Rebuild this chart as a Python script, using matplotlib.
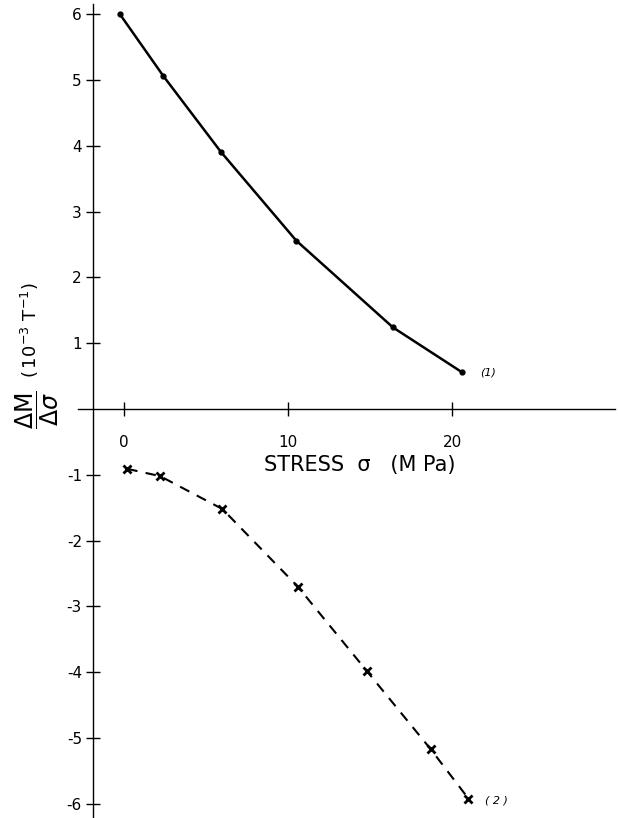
import matplotlib
matplotlib.use("Agg")
import matplotlib.pyplot as plt

# curve (1): dots, solid line
stress_1 = [-0.25, 2.4, 5.9, 10.5, 16.4, 20.6]
dm_1 = [6.0, 5.06, 3.91, 2.56, 1.24, 0.56]

# curve (2): crosses, dashed line
stress_2 = [0.2, 2.2, 6.0, 10.6, 14.8, 18.7, 21.0]
dm_2 = [-0.91, -1.02, -1.52, -2.70, -3.98, -5.17, -5.92]

xticks = [0, 10, 20]
yticks = [-6, -5, -4, -3, -2, -1, 1, 2, 3, 4, 5, 6]

W, H = 618, 818
fig = plt.figure(figsize=(W / 100, H / 100), dpi=100)
ax = fig.add_axes([0, 0, 1, 1])

# pixel -> data mapping
x_per_px = 1 / 16.4
y_per_px = 1 / 65.8
ax.set_xlim((0 - 124) * x_per_px, (W - 124) * x_per_px)
ax.set_ylim((409 - H) * y_per_px, 409 * y_per_px)

ax.plot(stress_1, dm_1, '-', color='black', lw=1.8,
        marker='o', markersize=3.5)
ax.plot(stress_2, dm_2, '--', color='black', lw=1.5, dashes=(5, 4),
        marker='x', markersize=6, markeredgewidth=2)

ax.text(21.7, 0.56, '(1)', fontsize=8, style='italic', va='center')
ax.text(22.0, -5.95, '( 2 )', fontsize=8, style='italic', va='center')

# axes through the data origin like the original drawing
for s in ['top', 'right']:
    ax.spines[s].set_visible(False)
ax.spines['left'].set_position(('data', (93 - 124) * x_per_px))
ax.spines['bottom'].set_position(('data', 0))
ax.spines['left'].set_bounds(-6.3, 6.15)
ax.spines['bottom'].set_bounds((78 - 124) * x_per_px, (615 - 124) * x_per_px)
ax.spines['left'].set_linewidth(1.0)
ax.spines['bottom'].set_linewidth(1.0)

ax.set_xticks(xticks)
ax.set_yticks(yticks)
ax.set_xticklabels([str(t) for t in xticks])
ax.set_yticklabels([str(t) for t in yticks])
ax.tick_params(axis='both', direction='inout', length=10, width=1,
               labelsize=11)
ax.tick_params(axis='x', pad=14)
ax.tick_params(axis='y', pad=3)

fig.text(360 / W, 1 - 465 / H, 'STRESS  σ   (M Pa)', fontsize=15,
         ha='center', va='center')
fig.text(37 / W, 1 - 410 / H, r'$\dfrac{\Delta \mathrm{M}}{\Delta \sigma}$',
         fontsize=17, rotation=90, ha='center', va='center')
fig.text(30 / W, 1 - 330 / H, r'$(\,10^{-3}\ \mathrm{T}^{-1})$',
         fontsize=13, rotation=90, ha='center', va='center')

fig.savefig('out.png', dpi=100)
